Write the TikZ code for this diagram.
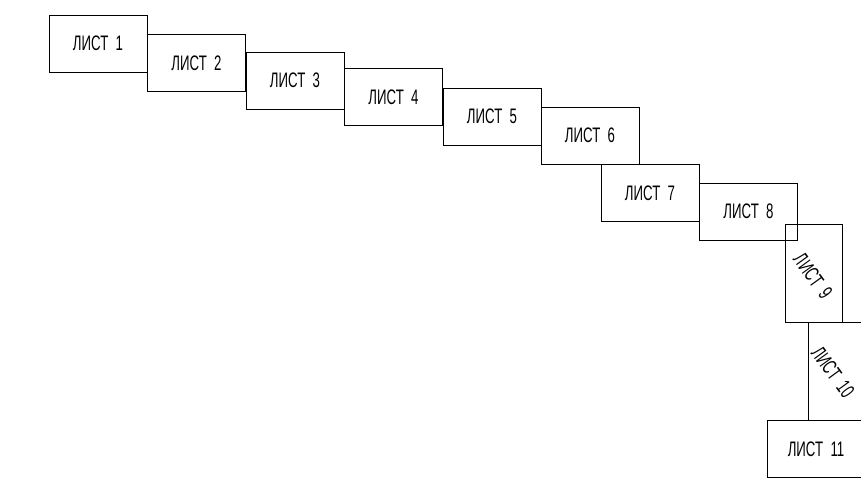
\documentclass[tikz,border=0pt]{standalone}
\usepackage{fontspec}
\newfontfamily\sheetfont[FakeStretch=0.63]{Liberation Sans}
\begin{document}
\begin{tikzpicture}[x=1pt,y=-1pt,
  sheet/.style={draw=black, line width=0.8pt, minimum width=98pt, minimum height=57pt, inner sep=0pt, font=\sheetfont\fontsize{21}{23}\selectfont},
  vsheet/.style={draw=black, line width=0.8pt, minimum width=57pt, minimum height=98pt, inner sep=0pt},
  vlabel/.style={inner sep=0pt, rotate=-54, font=\sheetfont\fontsize{21}{23}\selectfont}]
\clip (0,0) rectangle (861,478);
\node[sheet] (s1) at (98,43.5) {ЛИСТ\ \ 1};
\node[sheet] (s2) at (196.5,63) {ЛИСТ\ \ 2};
\node[sheet] (s3) at (295,80.5) {ЛИСТ\ \ 3};
\node[sheet] (s4) at (393.5,97) {ЛИСТ\ \ 4};
\node[sheet] (s5) at (492,116.5) {ЛИСТ\ \ 5};
\node[sheet] (s6) at (590,135.5) {ЛИСТ\ \ 6};
\node[sheet] (s7) at (650,193) {ЛИСТ\ \ 7};
\node[sheet] (s8) at (748.5,211.5) {ЛИСТ\ \ 8};
\node[vsheet] (s9) at (813.5,273) {};
\node[vlabel] (l9) at (813,276) {ЛИСТ\ \ 9};
\node[vsheet] (s10) at (836.5,371.5) {};
\node[vlabel] (l10) at (833,372) {ЛИСТ\ \ 10};
\node[sheet] (s11) at (816,449) {ЛИСТ\ \ 11};
\end{tikzpicture}
\end{document}
